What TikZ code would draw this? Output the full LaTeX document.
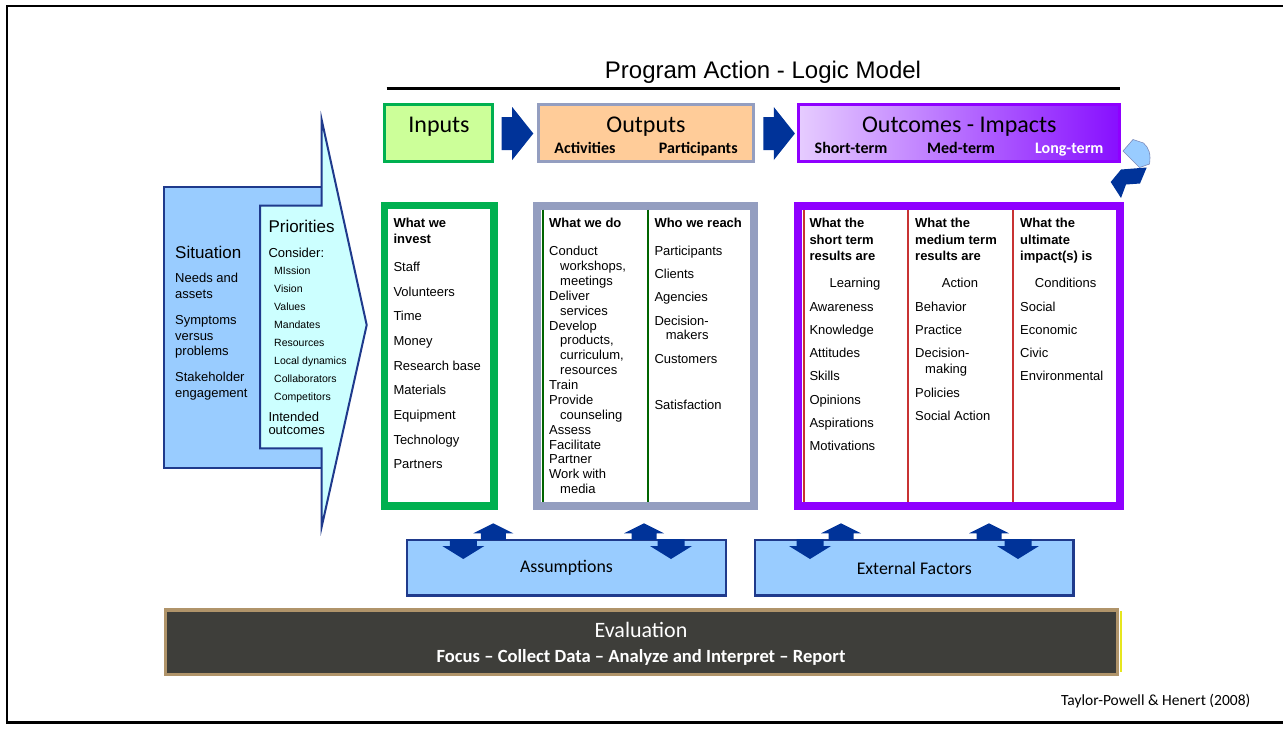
\documentclass[tikz,border=0pt]{standalone}
\usepackage{fontspec}
\setmainfont{Liberation Sans}
\newfontfamily\calibri{Carlito}

\definecolor{navy}{RGB}{0,51,153}
\definecolor{edgeblue}{RGB}{31,58,140}
\definecolor{skyfill}{RGB}{153,204,255}
\definecolor{cyanfill}{RGB}{204,255,255}
\definecolor{inputgreen}{RGB}{0,176,80}
\definecolor{inputfill}{RGB}{204,255,153}
\definecolor{outputgray}{RGB}{148,158,192}
\definecolor{outputfill}{RGB}{255,204,153}
\definecolor{outviolet}{RGB}{143,0,255}
\definecolor{outlight}{RGB}{230,204,255}
\definecolor{outdark}{RGB}{135,15,255}
\definecolor{redline}{RGB}{200,50,50}
\definecolor{linegreen}{RGB}{0,100,0}
\definecolor{board}{RGB}{62,62,58}
\definecolor{wood}{RGB}{176,148,106}
\definecolor{chalkyellow}{RGB}{230,230,30}

\begin{document}
\begin{tikzpicture}[x=1pt, y=-1pt,
  body/.style={font=\fontsize{13}{15}\selectfont, inner sep=0pt, anchor=west, text height=9.3pt, text depth=0pt},
  head/.style={body, font=\fontsize{13}{15}\selectfont\bfseries},
  small/.style={body, font=\fontsize{10.5}{12}\selectfont, text height=7.5pt},
  big/.style={body, font=\fontsize{17}{20}\selectfont, text height=12.2pt},
  boxtitle/.style={font=\calibri\fontsize{24}{28}\selectfont, inner sep=0pt, text height=15.5pt, text depth=0pt},
  boxsub/.style={font=\calibri\bfseries\fontsize{16}{18}\selectfont, inner sep=0pt, text height=10.3pt, text depth=0pt},
  factor/.style={font=\calibri\fontsize{17.8}{20}\selectfont, inner sep=0pt},
  upblock/.style={fill=navy}]

	\useasboundingbox (0,0) rectangle (1283,729);
	\draw[line width=2.5pt] (7,6.2) rectangle (1295,722.5);

	% heading
	\node[font=\fontsize{24}{28}\selectfont, inner sep=0pt, text height=17.2pt, text depth=0pt] (title) at (763,69.5) {Program Action - Logic Model};
	\draw[line width=3.5pt] (386.7,88.3) -- (1120,88.3);

	% top row
	\draw[inputgreen, fill=inputfill, line width=3pt] (384.8,104.8) rectangle (492.8,161.2);
	\node[boxtitle] (inputs) at (439,125) {Inputs};
	\draw[outputgray, fill=outputfill, line width=3pt] (538.2,104.8) rectangle (753.5,161.2);
	\node[boxtitle] (outputs) at (646,125) {Outputs};
	\node[boxsub] (activities) at (585,148.3) {Activities};
	\node[boxsub] (participants) at (698.3,148.3) {Participants};
	\draw[outviolet, line width=3pt, left color=outlight, right color=outdark] (798.8,104.8) rectangle (1119.5,161.2);
	\node[boxtitle] (outcomes) at (959.3,125) {Outcomes - Impacts};
	\node[boxsub] (shortterm) at (851,148.3) {Short-term};
	\node[boxsub] (medterm) at (961,148.3) {Med-term};
	\node[boxsub, text=white] (longterm) at (1069.3,148.3) {Long-term};
	\foreach \x in {501.7,763.3}
		\fill[navy] (\x,117) -- (\x+10.5,117) -- (\x+10.5,107) -- (\x+31.6,133.5) -- (\x+10.5,160) -- (\x+10.5,150) -- (\x,150) -- cycle;
	\filldraw[fill=skyfill, draw=edgeblue!60, line width=0.6pt] (1123,151) -- (1133,139.5) -- (1143.5,143) .. controls (1149,148) and (1151,154) .. (1149.5,164) -- (1139.5,167.5) -- cycle;
	\fill[navy] (1110.7,182) -- (1121,169.5) -- (1146.7,167.5) -- (1140,183.5) -- (1126,184.5) -- (1121,198) -- cycle;

	% situation and priorities
	\draw[edgeblue, fill=skyfill, line width=2pt] (164,186.7) rectangle (321.7,468.3);
	\draw[edgeblue, fill=cyanfill, line width=2pt] (260,205.7) -- (321.7,205.7) -- (321.7,120) -- (366.7,325) -- (321.7,526.7) -- (321.7,448.3) -- (260,448.3) -- cycle;
	\node[big] (situation) at (175,252.7) {Situation};
	\node[body] (needs) at (175,278.3) {Needs and};
	\node[body] (assets) at (175,294.3) {assets};
	\node[body] (symptoms) at (175,320) {Symptoms};
	\node[body] (versus) at (175,335.7) {versus};
	\node[body] (problems) at (175,351.3) {problems};
	\node[body] (stake) at (175,376.7) {Stakeholder};
	\node[body] (engage) at (175,392.7) {engagement};
	\node[big] (priorities) at (268.3,226.7) {Priorities};
	\node[body] (consider) at (268.3,252.7) {Consider:};
	\foreach \t [count=\k from 0] in {MIssion, Vision, Values, Mandates, Resources, Local dynamics, Collaborators, Competitors}
		\node[small] (pri\k) at (274,{271+17.95*\k}) {\t};
	\node[body] (intended) at (268.3,416.7) {Intended};
	\node[body] (intout) at (268.3,430) {outcomes};

	% inputs column
	\draw[inputgreen, fill=white, line width=7.3pt] (384.7,205.4) rectangle (493.9,505.9);
	\node[head] (invh1) at (393.3,223.3) {What we};
	\node[head] (invh2) at (393.3,239.3) {invest};
	\foreach \t [count=\k from 0] in {Staff, Volunteers, Time, Money, Research base, Materials, Equipment, Technology, Partners}
		\node[body] (inv\k) at (393.3,{266.7+24.7*\k}) {\t};

	% outputs columns
	\draw[outputgray, fill=white, line width=8pt] (537.3,205.7) rectangle (754.3,506);
	\draw[linegreen, line width=2pt] (542.6,209.7) -- (542.6,502);
	\draw[linegreen, line width=2pt] (648,209.7) -- (648,502);
	\node[head] (doh) at (549,223.3) {What we do};
	\foreach \dx/\t [count=\k from 0] in {0/Conduct, 11/{workshops,}, 11/meetings, 0/Deliver, 11/services, 0/Develop, 11/{products,}, 11/{curriculum,}, 11/resources, 0/Train, 0/Provide, 11/counseling, 0/Assess, 0/Facilitate, 0/Partner, 0/Work with, 11/media}
		\node[body] (do\k) at ({549+\dx},{251+14.875*\k}) {\t};
	\node[head] (reachh) at (654.3,223.3) {Who we reach};
	\node[body] (reach1) at (654.3,250.7) {Participants};
	\node[body] (reach2) at (654.3,274.3) {Clients};
	\node[body] (reach3) at (654.3,297.3) {Agencies};
	\node[body] (reach4) at (654.3,321) {Decision-};
	\node[body] (reach5) at (665.7,335) {makers};
	\node[body] (reach6) at (654.3,359) {Customers};
	\node[body] (reach7) at (654.3,405) {Satisfaction};

	% outcomes columns
	\draw[outviolet, fill=white, line width=8pt] (798,205.5) rectangle (1120.3,506.2);
	\foreach \x in {803.8,907.7,1013.3}
		\draw[redline, line width=2pt] (\x,209.5) -- (\x,502);
	\foreach \t [count=\k from 0] in {What the, short term, results are}
		\node[head] (sth\k) at (809.3,{223.3+16.3*\k}) {\t};
	\foreach \t [count=\k from 0] in {What the, medium term, results are}
		\node[head] (mth\k) at (915,{223.3+16.3*\k}) {\t};
	\foreach \t [count=\k from 0] in {What the, ultimate, impact(s) is}
		\node[head] (lth\k) at (1020,{223.3+16.3*\k}) {\t};
	\node[body, anchor=center] (learning) at (855,283.3) {Learning};
	\node[body, anchor=center] (action) at (960,283.3) {Action};
	\node[body, anchor=center] (conditions) at (1065.7,283.3) {Conditions};
	\foreach \t [count=\k from 0] in {Awareness, Knowledge, Attitudes, Skills, Opinions, Aspirations, Motivations}
		\node[body] (st\k) at (809.3,{306.7+23.2*\k}) {\t};
	\node[body] (mt1) at (915,306.7) {Behavior};
	\node[body] (mt2) at (915,329.9) {Practice};
	\node[body] (mt3) at (915,353.1) {Decision-};
	\node[body] (mt4) at (925,369) {making};
	\node[body] (mt5) at (915,392.7) {Policies};
	\node[body] (mt6) at (915,415.7) {Social Action};
	\foreach \t [count=\k from 0] in {Social, Economic, Civic, Environmental}
		\node[body] (lt\k) at (1020,{306.7+23.2*\k}) {\t};

	% assumptions, external factors
	\draw[edgeblue, fill=skyfill, line width=2.5pt] (407,540) rectangle (726,595.5);
	\draw[edgeblue, fill=skyfill, line width=2.5pt] (755,540) rectangle (1073.5,595.5);
	\node[factor] (assume) at (566.5,568) {Assumptions};
	\node[factor] (external) at (914.3,568.5) {External Factors};
	\foreach \x in {493.3,644,841,989}
		\fill[upblock] (\x,523.3) -- (\x+20,533.3) -- (\x+12.5,533.3) -- (\x+12.5,540) -- (\x-12.5,540) -- (\x-12.5,533.3) -- (\x-20,533.3) -- cycle;
	\foreach \x in {463.3,671,810,1018}
		\fill[upblock] (\x,559) -- (\x+21,546) -- (\x+13.5,546) -- (\x+13.5,539) -- (\x-13.5,539) -- (\x-13.5,546) -- (\x-21,546) -- cycle;

	% evaluation board
	\draw[wood, line width=3.5pt, fill=board] (165.7,610) rectangle (1117.5,674.3);
	\draw[chalkyellow, line width=2.5pt] (1120.8,611) -- (1120.8,671.5);
	\node[font=\calibri\fontsize{22}{26}\selectfont, text=white, inner sep=0pt, text height=14.2pt, text depth=0pt] (evaluation) at (641,630) {Evaluation};
	\node[font=\calibri\bfseries\fontsize{18.6}{21}\selectfont, text=white, inner sep=0pt, text height=12pt, text depth=0pt] (steps) at (641,656) {Focus – Collect Data – Analyze and Interpret – Report};

	\node[font=\calibri\fontsize{15.5}{18}\selectfont, inner sep=0pt, text height=10pt, text depth=0pt] (credit) at (1155.7,700) {Taylor-Powell \& Henert (2008)};
\end{tikzpicture}
\end{document}
